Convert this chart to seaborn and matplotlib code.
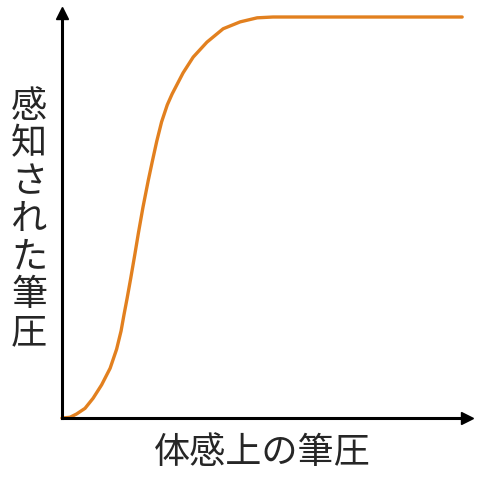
import numpy as np
import pandas as pd
import seaborn as sns
import matplotlib
matplotlib.use("Agg")
import matplotlib.pyplot as plt

# curve (x: felt pressure, y: perceived pressure)
felt = [0.000, 0.020, 0.036, 0.057, 0.077, 0.098, 0.119, 0.135, 0.146, 0.153,
        0.161, 0.170, 0.180, 0.189, 0.200, 0.213, 0.223, 0.234, 0.246, 0.260,
        0.272, 0.299, 0.324, 0.358, 0.398, 0.440, 0.482, 0.521, 0.988]
perceived = [0.000, 0.002, 0.010, 0.024, 0.049, 0.082, 0.123, 0.170, 0.215, 0.254,
             0.296, 0.346, 0.404, 0.458, 0.520, 0.586, 0.633, 0.683, 0.731, 0.773,
             0.800, 0.852, 0.891, 0.928, 0.961, 0.978, 0.988, 0.990, 0.990]

x_label = "体感上の筆圧"
y_label = "感知された筆圧"

sns.set_style("white")
plt.rcParams['font.family'] = ['Noto Sans CJK JP', 'DejaVu Sans']

df = pd.DataFrame({"felt": felt, "perceived": perceived})

fig = plt.figure(figsize=(4.8, 4.8), dpi=100)
ax = fig.add_axes([0.129, 0.129, 0.844, 0.844])

sns.lineplot(data=df, x="felt", y="perceived", ax=ax, color="#E2801F",
             linewidth=2.4, clip_on=False)
ax.lines[0].set_solid_joinstyle("round")

ax.set_xlim(0, 1)
ax.set_ylim(0, 1)
ax.set_xticks([])
ax.set_yticks([])
ax.set_xlabel("")
ax.set_ylabel("")
for side in ["top", "right"]:
    ax.spines[side].set_visible(False)
for side in ["left", "bottom"]:
    ax.spines[side].set_linewidth(2.2)
    ax.spines[side].set_color("black")

# arrow heads
ax.plot(1, 0, ">k", markersize=8, transform=ax.get_yaxis_transform(), clip_on=False)
ax.plot(0, 1, "^k", markersize=8, transform=ax.get_xaxis_transform(), clip_on=False)

fig.text(262 / 480, 1 - 453 / 480, x_label, fontsize=26,
         ha="center", va="center")
for i, ch in enumerate(y_label):
    fig.text(29 / 480, 1 - (107 + 37.7 * i) / 480, ch, fontsize=26,
             ha="center", va="center")

fig.savefig("out.png", dpi=100)
